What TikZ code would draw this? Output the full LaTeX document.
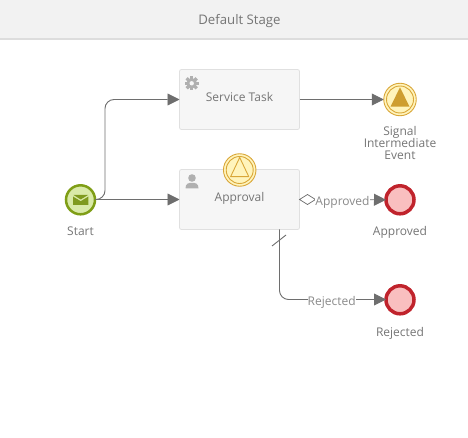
\documentclass[tikz,border=0pt]{standalone}
\usepackage{fontspec}
\setmainfont{Open Sans}
\usetikzlibrary{arrows.meta,shapes.geometric}
\definecolor{flowc}{HTML}{6E6E6E}
\definecolor{txtc}{HTML}{757575}
\definecolor{lblc}{HTML}{8A8A8A}
\definecolor{iconc}{HTML}{B0B0B0}
\definecolor{boxb}{HTML}{E0E0E0}
\definecolor{boxf}{HTML}{F6F6F6}
\definecolor{startb}{HTML}{7F9E16}
\definecolor{startf}{HTML}{D9EAA8}
\definecolor{envc}{HTML}{7F9A1E}
\definecolor{sigb}{HTML}{D9A637}
\definecolor{sigf}{HTML}{FFF4BC}
\definecolor{sigd}{HTML}{CE9E30}
\definecolor{endb}{HTML}{C0232C}
\definecolor{endf}{HTML}{F9BFBF}
\tikzset{
  x=1pt,y=-1pt,
  every node/.style={font=\fontsize{12}{12}\selectfont,text=txtc,inner sep=0pt,outer sep=0pt},
  taskbox/.style={draw=boxb,fill=boxf,line width=0.8pt,rounded corners=2pt,minimum width=120pt,minimum height=60pt},
  startev/.style={circle,draw=startb,fill=startf,line width=2.5pt,minimum size=29pt},
  endev/.style={circle,draw=endb,fill=endf,line width=3.5pt,minimum size=28pt},
  sigev/.style={circle,draw=sigb,fill=sigf,line width=0.9pt,minimum size=32.5pt},
  siginner/.style={circle,draw=sigb,line width=0.9pt,minimum size=27pt},
  flow/.style={draw=flowc,line width=0.9pt},
  arrowflow/.style={flow,-{Triangle[length=12pt,width=12pt,color=flowc]}},
  flowlabel/.style={fill=white,text=lblc,anchor=base,inner ysep=1pt},
}
\begin{document}
\begin{tikzpicture}
\useasboundingbox (0,0) rectangle (468,438);
% header
\fill[fill={rgb,255:red,242;green,242;blue,242}] (0,0) rectangle (468,38);
\fill[fill={rgb,255:red,221;green,221;blue,221}] (0,38) rectangle (468,40);
\node[anchor=base,font=\fontsize{13.2}{13}\selectfont] (title) at (239.5,24.5) {Default Stage};
% tasks
\node[taskbox] (service) at (239.5,99.5) {};
\node[taskbox] (approval) at (239.5,199.5) {};
\node[anchor=base] (servicelabel) at (239.5,101.5) {Service Task};
\node[anchor=base] (approvallabel) at (239.5,201.5) {Approval};
% events
\node[startev] (start) at (80.5,199.8) {};
\node[sigev] (signal) at (400,99.5) {};
\node[siginner] at (signal.center) {};
\node[sigev] (attached) at (239.7,170) {};
\node[siginner] at (attached.center) {};
\node[endev] (approved) at (400,199.8) {};
\node[endev] (rejected) at (400,299.8) {};
% event labels
\node[anchor=base] (startlabel) at (80.5,236) {Start};
\node[anchor=base] (signallabel) at (400,136) {Signal};
\node[anchor=base] (signallabelb) at (400,148) {Intermediate};
\node[anchor=base] (signallabelc) at (400,160) {Event};
\node[anchor=base] (approvedlabel) at (400,236) {Approved};
\node[anchor=base] (rejectedlabel) at (400,336) {Rejected};
% event symbols
\fill[sigd] (400,87.3) -- (409.5,106.7) -- (390.5,106.7) -- cycle;
\draw[sigb,line width=0.9pt,line join=round] (239.7,157.5) -- (248.8,176.7) -- (230.6,176.7) -- cycle;
% envelope
\fill[envc] (73,196.5) -- (80.7,201.2) -- (88.4,196.5) -- (88.4,205) -- (73,205) -- cycle;
\fill[envc] (73.5,195) -- (88,195) -- (80.7,199.5) -- cycle;
% gear
\fill[iconc] (191.7,83.3) circle (5.3pt);
\foreach \a in {0,45,...,315}
  \fill[iconc,rotate around={\a:(191.7,83.3)}] (190.1,76.2) rectangle (193.3,80);
\fill[boxf] (191.7,83.3) circle (2.2pt);
% person
\fill[iconc] (192,178) circle (3.8pt);
\fill[iconc] (185.5,188.3) .. controls (185.5,183.5) and (188.5,182.8) .. (192,182.8) .. controls (195.5,182.8) and (198.5,183.5) .. (198.5,188.3) -- cycle;
% connectors
\coordinate (bend1) at (105,199.5);
\coordinate (bend2) at (105,99.5);
\coordinate (bend3) at (279.5,299.5);
\coordinate (rejstart) at (279.5,229.5);
\draw[arrowflow,rounded corners=9pt] (start.east |- bend1) -- (bend1) -- (bend2) -- (service.west);
\draw[arrowflow] (start.east |- bend1) -- (approval.west);
\draw[arrowflow] (service.east) -- (signal.west);
\node[diamond,draw=flowc,fill=white,line width=0.7pt,minimum width=16pt,minimum height=10pt,anchor=west] (dia) at (299.5,199.5) {};
\draw[arrowflow] (dia.east) -- (approved.west);
\draw[arrowflow,rounded corners=9pt] (rejstart) -- (bend3) -- (rejected.west |- bend3);
\coordinate (tick1) at (272,246);
\coordinate (tick2) at (286,235);
\draw[flow] (tick1) -- (tick2);
\node[flowlabel] (approvedflow) at (342.5,205.5) {Approved};
\node[flowlabel] (rejectedflow) at (331.7,305.5) {Rejected};
\end{tikzpicture}
\end{document}
